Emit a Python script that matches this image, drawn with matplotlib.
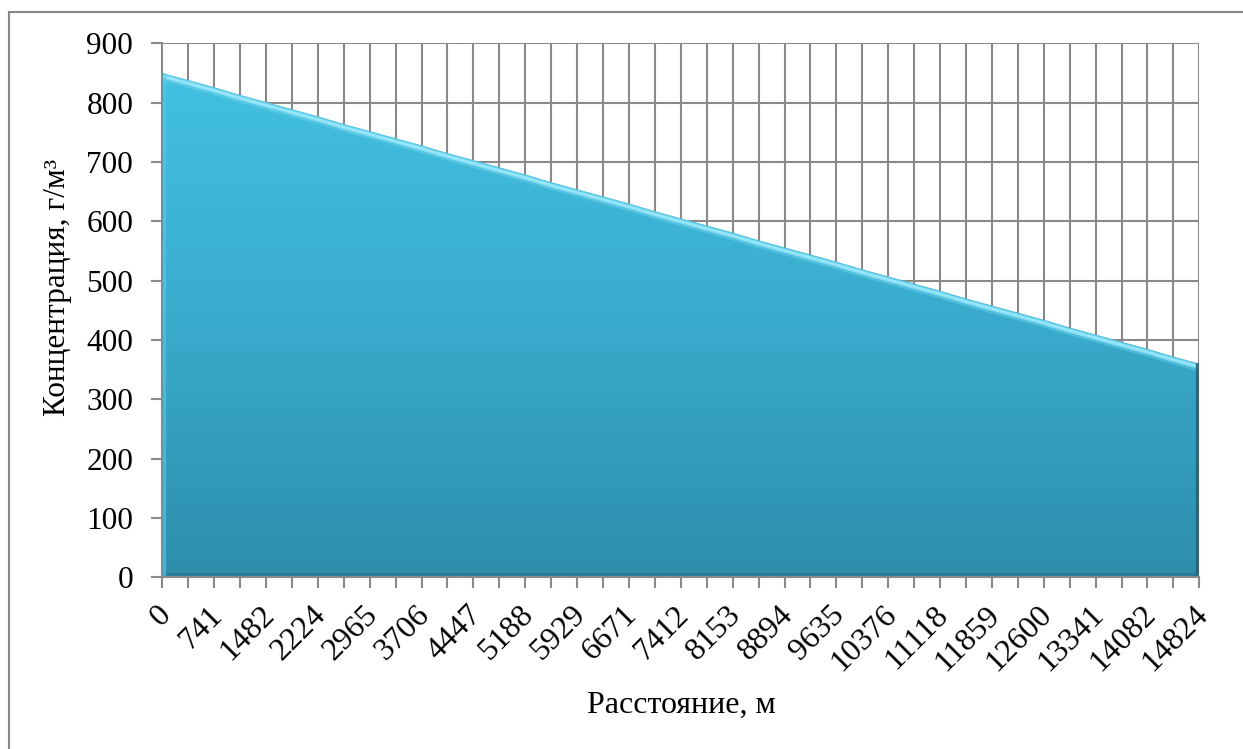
import numpy as np
import matplotlib
matplotlib.use("Agg")
import matplotlib.pyplot as plt
from matplotlib.colors import LinearSegmentedColormap
from matplotlib.patches import Polygon
from matplotlib.lines import Line2D
import matplotlib.transforms as mtransforms

# Distance categories, m
distance = [0, 371, 741, 1112, 1482, 1853, 2224, 2594, 2965, 3335,
            3706, 4076, 4447, 4818, 5188, 5559, 5929, 6300, 6671, 7041,
            7412, 7782, 8153, 8524, 8894, 9265, 9635, 10006, 10376, 10747,
            11118, 11488, 11859, 12229, 12600, 12971, 13341, 13712, 14082, 14453,
            14824]
# Concentration, g/m3
concentration = [850, 838, 826, 813, 801, 789, 777, 764, 752, 740,
                 728, 715, 703, 691, 679, 666, 654, 642, 630, 617,
                 605, 593, 581, 568, 556, 544, 532, 519, 507, 495,
                 483, 470, 458, 446, 434, 421, 409, 397, 385, 372,
                 360]
y_ticks = [0, 100, 200, 300, 400, 500, 600, 700, 800, 900]

plt.rcParams['font.family'] = ['Liberation Serif', 'DejaVu Serif']

W, H = 1243, 749
fig = plt.figure(figsize=(W / 100, H / 100), dpi=100)
ax = fig.add_axes([162.3 / W, 1 - 577.3 / H, (1199.3 - 162.3) / W, (577.3 - 43.3) / H])

grid_c = '#898989'
n = len(distance)
x = np.arange(n)
y = np.array(concentration, dtype=float)

ax.set_xlim(0, n - 1)
ax.set_ylim(0, 900)

# grid
for yt in y_ticks[1:]:
    ax.axhline(yt, color=grid_c, lw=1.5, zorder=0)
for xi in x[1:]:
    ax.axvline(xi, color=grid_c, lw=1.5, zorder=0)

# gradient filled area
cmap = LinearSegmentedColormap.from_list('area', ['#2d8eac', '#39acce', '#44c3e3'])
grad = np.linspace(0, 1, 256).reshape(-1, 1)
img = ax.imshow(grad, cmap=cmap, origin='lower', aspect='auto',
                extent=[0, n - 1, 0, 900], zorder=2)
verts = [(0, 0)] + list(zip(x, y)) + [(n - 1, 0)]
poly = Polygon(verts, closed=True, facecolor='none', edgecolor='none', transform=ax.transData)
ax.add_patch(poly)
img.set_clip_path(poly)

# bevel: light top edge, darker right and bottom edges
def shifted(dx, dy):
    return ax.transData + mtransforms.ScaledTranslation(dx / 100, dy / 100, fig.dpi_scale_trans)

for off, col, lw, a in [(-1.5, '#5fd0ee', 2.0, 0.9), (-3.5, '#9be8fa', 2.5, 0.95),
                        (-6, '#6fd6f0', 2.5, 0.45)]:
    ln = Line2D(x, y, color=col, lw=lw, alpha=a, transform=shifted(0, off), zorder=3,
                solid_capstyle='butt')
    ax.add_line(ln)
    ln.set_clip_path(poly)
ln = Line2D([n - 1, n - 1], [0, y[-1]], color='#1d6680', lw=3, transform=shifted(-1.5, 0),
            zorder=3, alpha=0.9)
ax.add_line(ln)
ln.set_clip_path(poly)
ln = Line2D([0, n - 1], [0, 0], color='#24738e', lw=3, transform=shifted(0, 2), zorder=3, alpha=0.7)
ax.add_line(ln)
ln.set_clip_path(poly)
ln = Line2D([0, 0], [0, y[0]], color='#5cc9e6', lw=3, transform=shifted(2, 0), zorder=3, alpha=0.6)
ax.add_line(ln)
ln.set_clip_path(poly)

# axes
for s in ['top', 'right']:
    ax.spines[s].set_visible(False)
for s in ['left', 'bottom']:
    ax.spines[s].set_color(grid_c)
    ax.spines[s].set_linewidth(1.5)
    ax.spines[s].set_zorder(4)

ax.set_yticks(y_ticks)
ax.set_yticklabels([str(v) for v in y_ticks], fontsize=22.5)
ax.tick_params(axis='y', length=8, width=1.5, color=grid_c, pad=13)

ax.set_xticks(x)
ax.set_xticklabels([str(d) if i % 2 == 0 else '' for i, d in enumerate(distance)],
                   fontsize=23, rotation=45, ha='right', va='center', rotation_mode='anchor')
ax.tick_params(axis='x', length=8, width=1.5, color=grid_c, pad=16)
off = mtransforms.ScaledTranslation(4 / 100, 0, fig.dpi_scale_trans)
for lab in ax.get_xticklabels():
    lab.set_transform(lab.get_transform() + off)

fig.text(681 / W, 1 - 705 / H, 'Расстояние, м', fontsize=23, ha='center', va='center')
fig.text(57 / W, 1 - 287 / H, 'Концентрация, г/м³', fontsize=22.5, ha='center', va='center',
         rotation=90)

# outer chart border
fig.add_artist(Line2D([9 / W, 1], [1 - 12 / H, 1 - 12 / H], color='#878787', lw=1.5,
                      transform=fig.transFigure))
fig.add_artist(Line2D([9 / W, 9 / W], [0, 1 - 12 / H], color='#878787', lw=1.5,
                      transform=fig.transFigure))

fig.savefig('out.png', dpi=100)
